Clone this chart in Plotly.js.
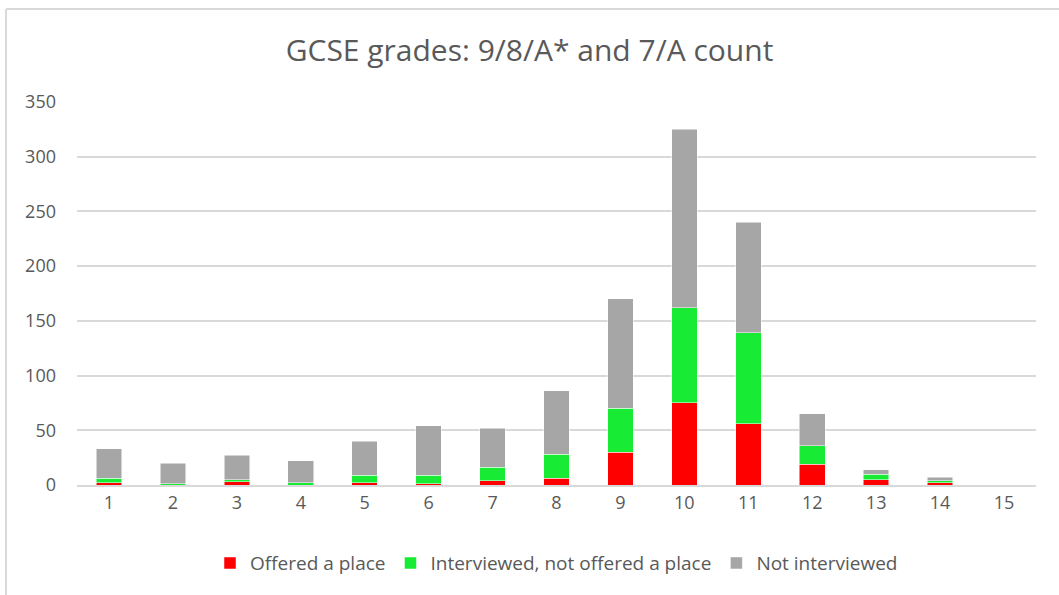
<!DOCTYPE html>
<html>
<head>
<meta charset="utf-8">
<script src="https://cdn.plot.ly/plotly-3.0.1.min.js"></script>
<style>
html,body{margin:0;padding:0;background:#fff;}
#chart{width:1059px;height:595px;}
</style>
</head>
<body>
<div id="chart"></div>
<script>
const categories = ["1","2","3","4","5","6","7","8","9","10","11","12","13","14","15"];
const offered = [2, 0, 3, 0, 2, 1, 4, 6, 30, 75, 56, 19, 5, 2, 0];
const interviewedNotOffered = [4, 1, 2, 2, 7, 8, 12, 22, 40, 87, 83, 17, 5, 2, 0];
const notInterviewed = [27, 19, 22, 20, 31, 45, 36, 58, 100, 163, 101, 29, 4, 3, 0];
const seriesNames = ["Offered a place", "Interviewed, not offered a place", "Not interviewed"];
const seriesColors = ["#ff0000", "#17eb33", "#a6a6a6"];
const yTicks = [0, 50, 100, 150, 200, 250, 300, 350];

const seriesValues = [offered, interviewedNotOffered, notInterviewed];
const traces = seriesValues.map((vals, i) => ({
  type: 'bar',
  x: categories,
  y: vals,
  name: seriesNames[i],
  marker: {color: seriesColors[i], line: {color: '#ffffff', width: 0.5}},
  hoverinfo: 'x+y+name'
}));

const layout = {
  width: 1059, height: 595,
  barmode: 'stack',
  bargap: 0.6,
  paper_bgcolor: '#ffffff',
  plot_bgcolor: '#ffffff',
  margin: {l: 77, r: 23, t: 102, b: 110},
  title: {
    text: 'GCSE grades: 9/8/A* and 7/A count',
    font: {family: 'Open Sans, sans-serif', size: 30, color: '#595959'},
    x: 0.5, xanchor: 'center',
    y: 1 - 50/595, yanchor: 'middle', yref: 'container'
  },
  xaxis: {
    type: 'category',
    tickfont: {family: 'Open Sans, sans-serif', size: 18, color: '#595959'},
    showgrid: false,
    showline: true, linecolor: '#d9d9d9', linewidth: 2,
    ticks: '', ticklen: 0,
    zeroline: false,
    fixedrange: true
  },
  yaxis: {
    range: [0, 350],
    tickvals: yTicks,
    ticktext: yTicks.map(String),
    tickfont: {family: 'Open Sans, sans-serif', size: 18, color: '#595959'},
    showgrid: true, gridcolor: '#d9d9d9', gridwidth: 1.5,
    zeroline: false,
    showline: false,
    ticks: '', ticklabelstandoff: 20,
    fixedrange: true
  },
  legend: {
    orientation: 'h',
    x: 0.5, xanchor: 'center',
    y: -0.204, yanchor: 'middle',
    font: {family: 'Open Sans, sans-serif', size: 19, color: '#595959'},
    traceorder: 'normal',
    itemclick: false
  },
  shapes: [
    {type: 'line', xref: 'paper', yref: 'paper', x0: -0.074, x1: -0.074, y0: -0.5, y1: 1.243,
     line: {color: '#d9d9d9', width: 2}},
    {type: 'line', xref: 'paper', yref: 'paper', x0: -0.074, x1: 1.2, y0: 1.243, y1: 1.243,
     line: {color: '#d9d9d9', width: 2}}
  ],
  showlegend: true
};

Plotly.newPlot('chart', traces, layout, {displayModeBar: false, staticPlot: false});
</script>
</body>
</html>
